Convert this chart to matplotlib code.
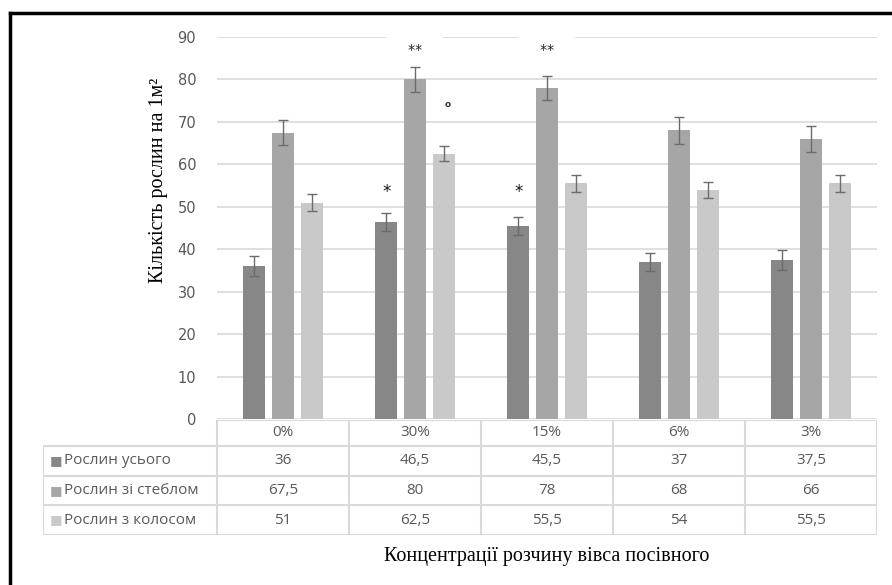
import matplotlib
matplotlib.use("Agg")
import matplotlib.pyplot as plt
from matplotlib.lines import Line2D
import numpy as np

categories = ["0%", "30%", "15%", "6%", "3%"]
series_names = ["Рослин усього", "Рослин зі стеблом", "Рослин з колосом"]
total = [36, 46.5, 45.5, 37, 37.5]
with_stem = [67.5, 80, 78, 68, 66]
with_ear = [51, 62.5, 55.5, 54, 55.5]
err_total = [2.3, 2.1, 2.2, 2.2, 2.3]
err_stem = [3.0, 3.0, 2.9, 3.1, 3.0]
err_ear = [2.0, 1.8, 2.0, 1.9, 2.0]
marks_total = ["", "*", "*", "", ""]
marks_stem = ["", "**", "**", "", ""]
marks_ear = ["", "o", "", "", ""]
mark_levels_total = [None, 54, 54, None, None]
mark_levels_stem = [None, 87, 87, None, None]
mark_levels_ear = [None, 74, None, None, None]
yticks = [0, 10, 20, 30, 40, 50, 60, 70, 80, 90]
ylabel = "Кількість рослин на 1м²"
xlabel = "Концентрації розчину вівса посівного"

values = [total, with_stem, with_ear]
errors = [err_total, err_stem, err_ear]
marks = [marks_total, marks_stem, marks_ear]
mark_levels = [mark_levels_total, mark_levels_stem, mark_levels_ear]
colors = ["#878787", "#a6a6a6", "#c9c9c9"]
text_gray = "#595959"
grid_gray = "#d9d9d9"

W, H = 892, 585
fig = plt.figure(figsize=(W / 100, H / 100), dpi=100)

def fx(px):
    return px / W

def fy(py):
    return 1 - py / H

x0, x1 = 217, 877
y_top, y_bot = 37, 419
ax = fig.add_axes([fx(x0), fy(y_bot), fx(x1) - fx(x0), fy(y_top) - fy(y_bot)])
x = np.arange(len(categories))
bw = 0.167
step = 0.218
for i, (vals, errs, col) in enumerate(zip(values, errors, colors)):
    pos = x + (i - 1) * step
    ax.bar(pos, vals, width=bw, color=col, zorder=2)
    ax.errorbar(pos, vals, yerr=errs, fmt="none", ecolor="#6b6b6b",
                elinewidth=1.0, capsize=3.5, capthick=1.0, zorder=3)
    for j, (m, lv) in enumerate(zip(marks[i], mark_levels[i])):
        if m:
            if m == "o":
                ax.text(pos[j] + 0.03, lv, "o", ha="center", va="center", fontsize=6.5,
                        color="#333333", zorder=4, fontweight="bold")
            elif m == "**":
                ax.text(pos[j], lv, "   **   ", ha="center", va="center",
                        fontsize=10, color="#222222", zorder=4,
                        bbox=dict(boxstyle="square,pad=0.55", fc="white", ec="none"))
            else:
                ax.text(pos[j], lv - 0.5, m, ha="center", va="center", fontsize=12,
                        color="#111111", zorder=4)

ax.set_xlim(-0.5, len(categories) - 0.5)
ax.set_ylim(0, 90)
ax.set_yticks(yticks)
ax.set_yticklabels([str(t) for t in yticks], color=text_gray, fontsize=10.5)
ax.tick_params(axis="y", length=0, pad=15)
ax.set_xticks([])
ax.yaxis.grid(True, color=grid_gray, linewidth=1.2, zorder=0)
ax.set_axisbelow(True)
for s in ax.spines.values():
    s.set_visible(False)

# table axes
t_left, t_top, t_bot = 43, 420, 535
tax = fig.add_axes([fx(t_left), fy(t_bot), fx(x1) - fx(t_left), fy(t_top) - fy(t_bot)])
cat_px = (x1 - x0) / len(categories)
lab_w = (x0 - t_left) / cat_px
tax.set_xlim(-0.5 - lab_w, len(categories) - 0.5)
row_h = [26, 30, 29, 30]
edges = np.concatenate([[0], np.cumsum(row_h)])
tax.set_ylim(edges[-1], 0)
tax.axis("off")
lc = grid_gray
lw = 1.5
tax.add_line(Line2D([-0.5, len(categories) - 0.5], [0, 0], color=lc, lw=lw))
for e in edges[1:]:
    tax.add_line(Line2D([-0.5 - lab_w, len(categories) - 0.5], [e, e], color=lc, lw=lw))
tax.add_line(Line2D([-0.5 - lab_w, -0.5 - lab_w], [edges[1], edges[-1]], color=lc, lw=lw))
for k in range(len(categories) + 1):
    tax.add_line(Line2D([k - 0.5, k - 0.5], [0, edges[-1]], color=lc, lw=lw))

def fmt(v):
    return ("%g" % v).replace(".", ",")

tfs = 11
for j, c in enumerate(categories):
    tax.text(j, (edges[0] + edges[1]) / 2, c, ha="center", va="center",
             fontsize=tfs, color=text_gray, family="Open Sans")
for i, (name, vals, col) in enumerate(zip(series_names, values, colors)):
    yc = (edges[i + 1] + edges[i + 2]) / 2
    tax.text(-0.5 - lab_w + 7 / cat_px, yc, "■", ha="left", va="center", fontsize=9.5,
             color=col, family="DejaVu Sans")
    tax.text(-0.5 - lab_w + 21 / cat_px, yc, name, ha="left", va="center", fontsize=tfs,
             color=text_gray, family="Open Sans")
    for j, v in enumerate(vals):
        tax.text(j, yc, fmt(v), ha="center", va="center", fontsize=tfs,
                 color=text_gray, family="Open Sans")

fig.text(fx(158), fy(180), ylabel, rotation=90, ha="center", va="center",
         fontsize=14.5, family="Liberation Serif", color="black")
fig.text(fx(547), fy(556), xlabel, ha="center", va="center",
         fontsize=14.5, family="Liberation Serif", color="black")

fig.add_artist(Line2D([fx(10), fx(10)], [fy(13), 0], color="black", lw=2.5,
                      transform=fig.transFigure))
fig.add_artist(Line2D([fx(10), 1], [fy(13), fy(13)], color="black", lw=2.5,
                      transform=fig.transFigure))

fig.savefig("out.png", dpi=100)
